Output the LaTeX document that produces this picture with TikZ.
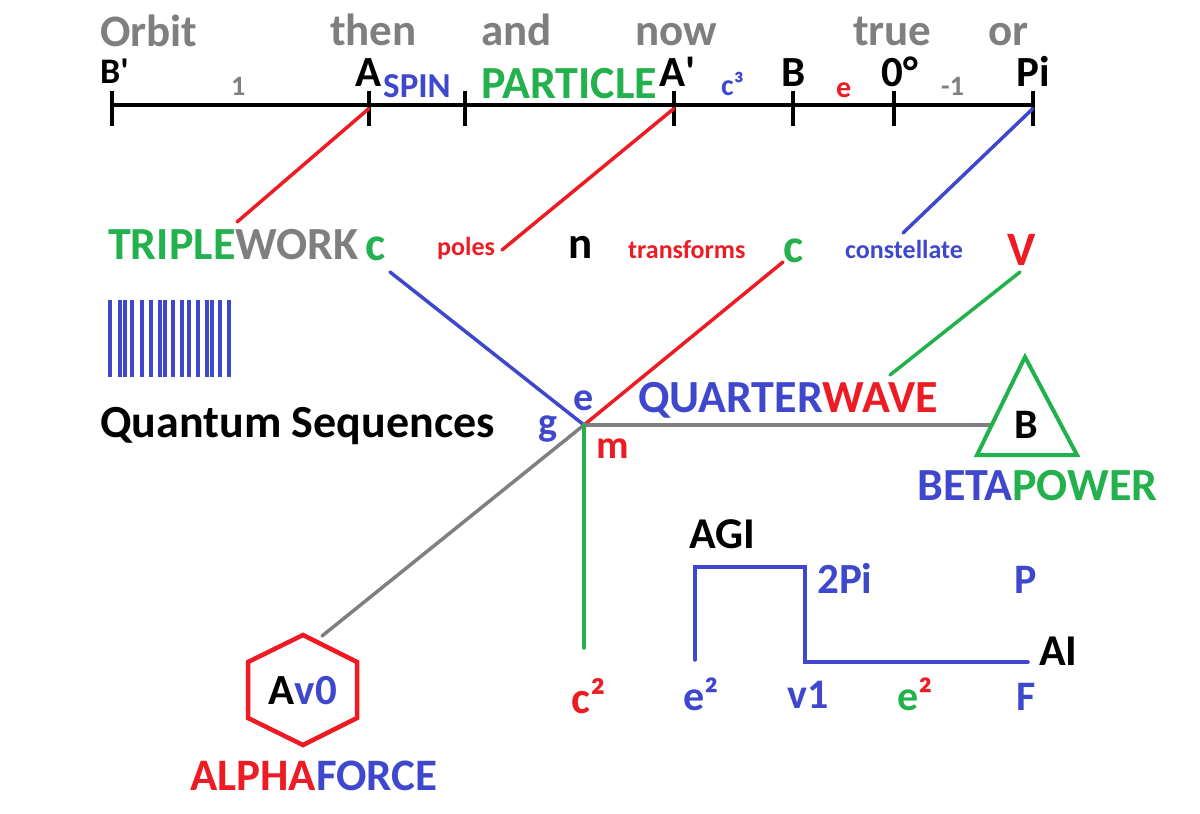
\documentclass[tikz,border=0pt]{standalone}
\usepackage{fontspec}
\setmainfont{Carlito}
\usepackage{tikz}
\definecolor{pblue}{RGB}{63,72,204}
\definecolor{pred}{RGB}{237,28,36}
\definecolor{pgreen}{RGB}{34,177,76}
\definecolor{pgray}{RGB}{127,127,127}
\tikzset{
	txt/.style={inner sep=0pt, anchor=base west, font=\bfseries\fontsize{#1}{#1}\selectfont},
	wire/.style={line width=3.5pt, line cap=round},
}

\begin{document}
\begin{tikzpicture}[x=1pt, y=-1pt]
		%%%%% START %%%%%
		\useasboundingbox[fill=white] (0, 0) rectangle (1200, 814);
		
		% top axis
		\draw[line width=4pt] (110, 105) -- (1035, 105);
		\foreach \tx/\tn in {112/tBp, 369/tA, 465/tX, 674/tAp, 793/tB, 894/tZ, 1033/tPi}
			\draw[line width=4pt] (\tx, 91) -- (\tx, 126) coordinate[pos=0.5] (\tn);
		
		\node[txt=45, pgray] (orbit) at (100, 46) {Orbit};
		\node[txt=45, pgray] (then) at (330, 45) {then};
		\node[txt=45, pgray] (and) at (481, 45) {and};
		\node[txt=45, pgray] (now) at (635, 45) {now};
		\node[txt=45, pgray] (true) at (853, 45) {true};
		\node[txt=45, pgray] (or) at (988, 45) {or};
		
		\node[txt=36] (Bp) at (100, 83) {B\textquotesingle};
		\node[txt=28, pgray] (one) at (231, 95) {1};
		\node[txt=43] (A) at (355, 86) {A};
		\node[txt=35, pblue] (spin) at (383, 97) {SPIN};
		\node[txt=46, pgreen] (particle) at (481, 98) {PARTICLE};
		\node[txt=43] (Ap) at (659, 86) {A\textquotesingle};
		\node[txt=30, pblue] (c3) at (721, 95) {c³};
		\node[txt=43] (B) at (781, 86) {B};
		\node[txt=30, pred] (e) at (836, 97) {e};
		\node[txt=43] (zero) at (881, 86) {0°};
		\node[txt=28, pgray] (mone) at (941, 95) {-1};
		\node[txt=43] (Pi) at (1016, 86) {Pi};
		
		% middle row
		\node[txt=46] (triple) at (108, 259) {{\color{pgreen}TRIPLE}{\color{pgray}WORK}};
		\node[txt=48, pgreen] (cl) at (365, 260) {c};
		\node[txt=26, pred] (poles) at (437, 255) {poles};
		\node[txt=45] (n) at (568, 258) {n};
		\node[txt=26, pred] (transforms) at (628, 258) {transforms};
		\node[txt=48, pgreen] (cr) at (783, 262) {c};
		\node[txt=26, pblue] (constellate) at (845, 258) {constellate};
		\node[txt=48, pred] (V) at (1007, 265) {V};
		
		\coordinate (wA) at (237, 222);
		\coordinate (wpoles) at (502, 250);
		\coordinate (wconst) at (903, 233);
		\draw[wire, pred] (tA) -- (wA);
		\draw[wire, pred] (tAp) -- (wpoles);
		\draw[wire, pblue] (tPi) -- (wconst);
		
		% barcode
		\foreach \bx in {110,120,125,132,142,151,160,165,173,182,189,198,207,212,220,229}
			\draw[line width=4.5pt, pblue] (\bx, 300) -- (\bx, 377);
		\node[txt=46] (quantum) at (100, 437) {Quantum Sequences};
		
		% hub
		\coordinate (hub) at (584, 425);
		\coordinate (wcl) at (390, 272);
		\coordinate (wcr) at (783, 262);
		\coordinate (wbeta) at (990, 425);
		\coordinate (wc2) at (584, 648);
		\coordinate (walpha) at (322, 636);
		\coordinate (wV) at (1020, 272);
		\coordinate (wquarter) at (890, 375);
		\draw[wire, pblue] (wcl) -- (hub);
		\draw[wire, pred] (wcr) -- (hub);
		\draw[wire, pgray] (hub) -- (wbeta);
		\draw[wire, pgray] (hub) -- (walpha);
		\draw[wire, pgreen] (hub) -- (wc2);
		\draw[wire, pgreen] (wV) -- (wquarter);
		
		\node[txt=40, pblue] (g) at (538, 435) {g};
		\node[txt=40, pblue] (ehub) at (573, 410) {e};
		\node[txt=40, pred] (m) at (596, 458) {m};
		\node[txt=46] (quarter) at (638, 412) {{\color{pblue}QUARTER}{\color{pred}WAVE}};
		
		% beta triangle
		\draw[line width=4pt, pgreen, line join=miter] (1025, 357) -- (1077, 455) -- (977, 455) -- cycle;
		\node[txt=42, anchor=center] (Btri) at (1026, 425) {B};
		\node[txt=46] (beta) at (917, 500) {{\color{pblue}BETA}{\color{pgreen}POWER}};
		
		% alpha hexagon
		\draw[line width=4.5pt, pred] (303, 635) -- (357, 662) -- (357, 718) -- (303, 745) -- (248, 718) -- (248, 662) -- cycle;
		\node[txt=43, anchor=center] (av0) at (303, 691) {A{\color{pblue}v0}};
		\node[txt=45] (alpha) at (190, 790) {{\color{pred}ALPHA}{\color{pblue}FORCE}};
		\node[txt=45, pred] (c2) at (571, 713) {c²};
		
		% step line
		\coordinate (s1) at (695, 660);
		\coordinate (s2) at (805, 567);
		\coordinate (s3) at (1028, 662);
		\draw[wire, pblue, line cap=round, line join=miter] (s1) |- (s2) -- (805, 662) -- (s3);
		\node[txt=44] (agi) at (689, 548) {AGI};
		\node[txt=43, pblue] (twopi) at (817, 593) {2Pi};
		\node[txt=42, pblue] (P) at (1014, 593) {P};
		\node[txt=44] (AI) at (1039, 665) {AI};
		\node[txt=42, pblue] (e2a) at (683, 710) {e²};
		\node[txt=42, pblue] (v1) at (787, 708) {v1};
		\node[txt=42] (e2b) at (897, 710) {{\color{pgreen}e}{\color{pred}²}};
		\node[txt=42, pblue] (F) at (1016, 710) {F};
		
		%%%%% END %%%%%
	\end{tikzpicture}
\end{document}
